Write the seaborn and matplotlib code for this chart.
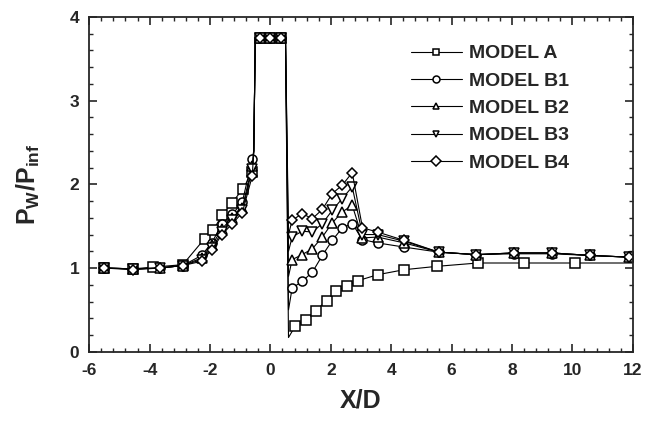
import numpy as np
import pandas as pd
import matplotlib
matplotlib.use("Agg")
import matplotlib.pyplot as plt
import seaborn as sns
from matplotlib.lines import Line2D
from matplotlib.ticker import MultipleLocator

# upstream (before the step) readings
up_x_A = [-5.5, -4.55, -3.9, -2.9, -2.18, -1.9, -1.6, -1.27, -0.9, -0.6]
up_x_B = [-5.5, -4.55, -3.65, -2.9, -2.28, -1.94, -1.6, -1.26, -0.93, -0.6]
up_y = {
    'MODEL A':  [1.00, 0.99, 1.01, 1.04, 1.35, 1.45, 1.63, 1.78, 1.95, 2.15],
    'MODEL B1': [1.00, 0.99, 1.00, 1.03, 1.15, 1.30, 1.53, 1.64, 1.79, 2.30],
    'MODEL B2': [1.00, 0.99, 1.00, 1.03, 1.12, 1.27, 1.47, 1.60, 1.72, 2.22],
    'MODEL B3': [1.00, 0.99, 1.00, 1.03, 1.10, 1.24, 1.43, 1.57, 1.69, 2.18],
    'MODEL B4': [1.00, 0.98, 1.00, 1.03, 1.08, 1.22, 1.40, 1.53, 1.66, 2.10],
}

# plateau on top of the step (shared by all models)
plat_x = [-0.55, -0.5, -0.33, 0.0, 0.35, 0.5]
plat_y = [2.40, 3.75, 3.75, 3.75, 3.75, 3.75]
plat_marked = [2, 3, 4]

# dip right behind the step
dip_x = 0.6
dip_y = {'MODEL A': 0.17, 'MODEL B1': 0.50, 'MODEL B2': 0.90,
         'MODEL B3': 1.20, 'MODEL B4': 1.40}

# downstream readings
down_x_A = [0.83, 1.17, 1.5, 1.86, 2.18, 2.53, 2.91, 3.55, 4.43, 5.51, 6.87, 8.40, 10.1]
down_y_A = [0.31, 0.38, 0.49, 0.61, 0.72, 0.79, 0.85, 0.92, 0.98, 1.02, 1.06, 1.06, 1.06]
end_A = (12.0, 1.06)

down_x_B = [0.72, 1.05, 1.39, 1.72, 2.05, 2.38, 2.71, 3.05, 3.55, 4.43,
            5.57, 6.81, 8.06, 9.33, 10.6, 11.87]
down_y = {
    'MODEL B1': [0.76, 0.84, 0.95, 1.15, 1.33, 1.48, 1.53, 1.34, 1.30, 1.25,
                 1.19, 1.16, 1.17, 1.17, 1.15, 1.13],
    'MODEL B2': [1.10, 1.16, 1.23, 1.37, 1.54, 1.67, 1.75, 1.36, 1.37, 1.30,
                 1.19, 1.16, 1.18, 1.18, 1.15, 1.13],
    'MODEL B3': [1.37, 1.44, 1.43, 1.53, 1.69, 1.83, 1.97, 1.40, 1.40, 1.32,
                 1.19, 1.16, 1.18, 1.18, 1.15, 1.13],
    'MODEL B4': [1.57, 1.65, 1.59, 1.70, 1.89, 1.99, 2.14, 1.48, 1.43, 1.33,
                 1.19, 1.16, 1.18, 1.18, 1.15, 1.13],
}

models = ['MODEL A', 'MODEL B1', 'MODEL B2', 'MODEL B3', 'MODEL B4']
markers = ['s', 'o', '^', 'v', 'D']

sns.set_style('ticks')
plt.rcParams['font.family'] = ['Liberation Sans', 'DejaVu Sans']
plt.rcParams['font.weight'] = 'bold'
plt.rcParams['axes.unicode_minus'] = False
plt.rcParams['mathtext.fontset'] = 'custom'
plt.rcParams['mathtext.rm'] = 'Liberation Sans:bold'
plt.rcParams['mathtext.it'] = 'Liberation Sans:bold'
plt.rcParams['mathtext.bf'] = 'Liberation Sans:bold'

fig = plt.figure(figsize=(6.51, 4.23), dpi=100)
ax = fig.add_axes([0.137, 0.1685, 0.835, 0.7915])

handles = []
for name, mk in zip(models, markers):
    if name == 'MODEL A':
        ux, dx, dy = up_x_A, down_x_A + [end_A[0]], down_y_A + [end_A[1]]
        n_down_marked = len(down_x_A)
    else:
        ux, dx, dy = up_x_B, down_x_B, down_y[name]
        n_down_marked = len(down_x_B)
    xs = ux + plat_x + [dip_x] + dx
    ys = up_y[name] + plat_y + [dip_y[name]] + dy
    n_up = len(ux)
    start_down = n_up + len(plat_x) + 1
    marked = list(range(n_up)) + [n_up + i for i in plat_marked] + \
        list(range(start_down, start_down + n_down_marked))
    df = pd.DataFrame({'x': xs, 'y': ys})
    ms = 5.5 if mk == 'D' else 6.5
    sns.lineplot(data=df, x='x', y='y', sort=False, estimator=None, ax=ax,
                 color='black', linewidth=0.8, marker=mk, markevery=marked,
                 markersize=ms, markerfacecolor='white', markeredgecolor='black',
                 markeredgewidth=1.1, legend=False)
    handles.append(Line2D([], [], color='black', linewidth=0.8, marker=mk,
                          markersize=5, markerfacecolor='white',
                          markeredgecolor='black', markeredgewidth=1.1, label=name))

ax.set_xlim(-6, 12)
ax.set_ylim(0, 4)
ax.set_xlabel('')
ax.set_ylabel('')
ax.xaxis.set_major_locator(MultipleLocator(2))
ax.xaxis.set_minor_locator(MultipleLocator(0.4))
ax.yaxis.set_major_locator(MultipleLocator(1))
ax.yaxis.set_minor_locator(MultipleLocator(0.2))
ax.tick_params(which='both', direction='in', top=True, right=True)
ax.tick_params(which='major', length=6, width=1.2, labelsize=12.5)
ax.tick_params(axis='x', which='major', pad=8)
ax.tick_params(axis='y', which='major', pad=7)
ax.tick_params(which='minor', length=3, width=1)
for sp in ax.spines.values():
    sp.set_linewidth(1.3)
for lab in ax.get_xticklabels() + ax.get_yticklabels():
    lab.set_fontweight('bold')

ax.set_xlabel('X/D', fontsize=18, fontweight='bold', labelpad=8)
ax.set_ylabel(r'P$_\mathrm{W}$/P$_\mathrm{inf}$', fontsize=18, fontweight='bold', labelpad=20)

ax.legend(handles=handles, loc='upper left', bbox_to_anchor=(0.578, 0.94),
          frameon=False, numpoints=1, handlelength=2.6, handletextpad=0.35,
          labelspacing=0.5, borderaxespad=0, prop={'weight': 'bold', 'size': 14})

fig.savefig('out.png', dpi=100)
